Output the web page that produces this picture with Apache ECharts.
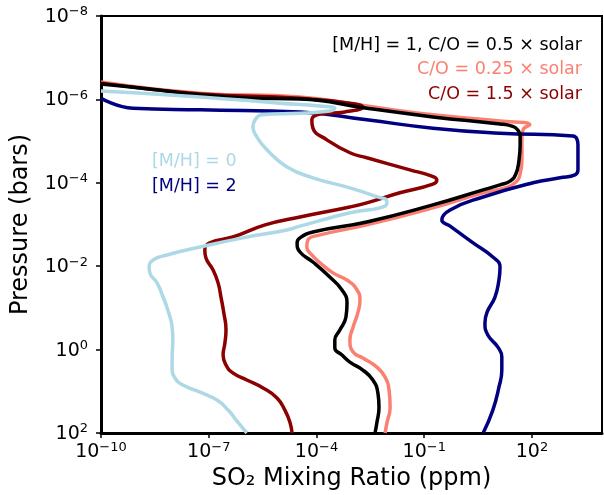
<!DOCTYPE html>
<html>
<head>
<meta charset="utf-8">
<script src="https://cdn.jsdelivr.net/npm/echarts@6/dist/echarts.min.js"></script>
<style>
  html, body { margin: 0; padding: 0; background: #fff; }
  #chart { width: 604px; height: 495px; }
</style>
</head>
<body>
<div id="chart"></div>
<script>
// values, stored as log10(ppm) and log10(bar)
const blackX = [-10, -8.64, -7.24, -5.85, -4.46, -2.6, -0.76, 1.11, 1.44, 1.58, 1.67, 1.67, 1.64, 1.55, 1.39, 1.11, 0.64, -0.76, -2.6, -4.1, -4.46, -4.54, -4.46, -4.1, -3.63, -3.29, -3.15, -3.18, -3.35, -3.49, -3.49, -3.29, -3.07, -2.71, -2.43, -2.29, -2.26, -2.32, -2.37];
const blackP = [-6.37, -6.25, -6.11, -6.03, -6.01, -5.79, -5.58, -5.41, -5.36, -5.29, -5.12, -4.91, -4.55, -4.21, -4.04, -3.95, -3.83, -3.47, -3.06, -2.82, -2.68, -2.56, -2.34, -2.1, -1.74, -1.43, -1.12, -0.78, -0.47, -0.23, -0.04, 0.13, 0.3, 0.49, 0.73, 1.04, 1.38, 1.76, 2.0];

const salmonX = [-10, -7.24, -4.46, -2.6, -0.76, 1.11, 1.94, 1.75, 1.72, 1.72, 1.67, 1.53, 1.25, 0.64, -0.76, -2.6, -3.9, -4.24, -4.27, -4.13, -3.9, -3.54, -3.12, -2.87, -2.79, -2.85, -2.98, -3.07, -2.98, -2.71, -2.32, -2.09, -1.98, -1.95, -2.04, -2.09];
const salmonP = [-6.42, -6.15, -6.06, -5.84, -5.63, -5.48, -5.39, -5.27, -5.03, -4.55, -4.21, -4.0, -3.88, -3.76, -3.4, -2.99, -2.75, -2.63, -2.46, -2.27, -2.08, -1.84, -1.65, -1.43, -1.19, -0.88, -0.54, -0.23, 0.06, 0.2, 0.42, 0.66, 0.97, 1.38, 1.76, 2.0];

const darkredX = [-10, -7.24, -4.46, -3.07, -2.71, -3.21, -3.9, -4.13, -4.1, -3.71, -3.07, -2.6, -1.4, -0.79, -0.65, -0.76, -1.68, -2.6, -3.07, -4.46, -5.43, -6.33, -6.97, -7.11, -7.08, -6.88, -6.74, -6.66, -6.58, -6.52, -6.55, -6.6, -6.52, -6.33, -5.94, -5.49, -5.1, -4.88, -4.74, -4.68];
const darkredP = [-6.39, -6.13, -6.03, -5.91, -5.82, -5.7, -5.65, -5.51, -5.31, -5.03, -4.72, -4.6, -4.31, -4.16, -4.07, -3.97, -3.76, -3.52, -3.42, -3.18, -2.99, -2.7, -2.56, -2.39, -2.2, -1.91, -1.6, -1.26, -0.88, -0.47, -0.16, 0.13, 0.37, 0.56, 0.73, 0.92, 1.16, 1.45, 1.74, 2.0];

const lightblueX = [-10, -7.24, -5.02, -3.9, -3.49, -3.63, -4.46, -5.52, -5.71, -5.77, -5.66, -5.38, -4.82, -4.1, -3.07, -2.37, -2.04, -2.09, -3.07, -4.46, -4.82, -6.05, -7.24, -8.16, -8.55, -8.66, -8.64, -8.44, -8.27, -8.14, -8.02, -8.0, -8.02, -8.02, -7.94, -7.72, -7.24, -6.77, -6.46, -6.19, -5.94];
const lightblueP = [-6.2, -6.06, -5.91, -5.84, -5.79, -5.72, -5.67, -5.63, -5.51, -5.34, -5.1, -4.79, -4.38, -4.12, -3.88, -3.68, -3.56, -3.44, -3.28, -2.96, -2.87, -2.68, -2.46, -2.27, -2.15, -1.98, -1.84, -1.6, -1.26, -0.95, -0.54, -0.23, 0.18, 0.44, 0.68, 0.85, 1.02, 1.21, 1.45, 1.74, 2.0];

const navyX = [-10, -9.11, -7.24, -4.46, -2.6, -0.76, 1.11, 3.14, 3.25, 3.28, 3.28, 3.2, 2.78, 2.03, 0.64, -0.28, -0.51, -0.28, 0.36, 0.91, 1.11, 1.08, 0.97, 0.75, 0.69, 0.77, 1.05, 1.16, 1.16, 1.08, 0.91, 0.64];
const navyP = [-6.03, -5.79, -5.75, -5.7, -5.51, -5.31, -5.19, -5.12, -5.05, -4.91, -4.31, -4.19, -4.12, -4.0, -3.66, -3.35, -3.11, -2.96, -2.56, -2.22, -1.98, -1.67, -1.26, -0.9, -0.64, -0.35, -0.06, 0.18, 0.49, 0.9, 1.45, 2.0];

const toPairs = (xs, ps) => xs.map((v, i) => [Math.pow(10, v), Math.pow(10, ps[i])]);

const FONT = 'DejaVu Sans';

const supLabel = (v) => {
  const e = Math.round(Math.log10(v));
  return '{b|10}{s|' + (e < 0 ? '\u2212' + (-e) : e) + '}';
};
const tickRich = {
  b: { fontSize: 19, lineHeight: 21, verticalAlign: 'bottom', fontFamily: FONT, color: '#000' },
  s: { fontSize: 13, lineHeight: 13, padding: [0, 0, 8, 0], verticalAlign: 'top', fontFamily: FONT, color: '#000' },
};

const makeLine = (name, color, xs, ps) => ({
  name: name,
  type: 'line',
  data: toPairs(xs, ps),
  showSymbol: false,
  symbol: 'none',
  smooth: 0.5,
  lineStyle: { color: color, width: 3.5 },
  itemStyle: { color: color },
  clip: true,
});

const option = {
  animation: false,
  backgroundColor: '#fff',
  grid: {
    left: 101, right: 2, top: 16, bottom: 62,
    show: true, borderColor: '#000', borderWidth: 2,
    outerBoundsMode: 'none',
  },
  xAxis: {
    type: 'log',
    min: 1e-10,
    max: 8900,
    interval: 3,
    name: 'SO\u2082 Mixing Ratio (ppm)',
    nameLocation: 'middle',
    nameGap: 27,
    nameTextStyle: { fontSize: 24, fontFamily: FONT, color: '#000' },
    axisLine: { lineStyle: { color: '#000', width: 3 } },
    axisTick: { length: 5, lineStyle: { color: '#000', width: 1.5 } },
    axisLabel: { margin: 8, formatter: supLabel, rich: tickRich, showMinLabel: true, showMaxLabel: false },
    splitLine: { show: false },
    minorTick: { show: false },
  },
  yAxis: {
    type: 'log',
    inverse: true,
    min: 1e-8,
    max: 1e2,
    interval: 2,
    name: 'Pressure (bars)',
    nameLocation: 'middle',
    nameRotate: 90,
    nameGap: 68,
    nameTextStyle: { fontSize: 24, fontFamily: FONT, color: '#000' },
    axisLine: { lineStyle: { color: '#000', width: 3 } },
    axisTick: { length: 5, lineStyle: { color: '#000', width: 1.5 } },
    axisLabel: { margin: 13, formatter: supLabel, rich: tickRich, showMinLabel: true, showMaxLabel: true },
    splitLine: { show: false },
    minorTick: { show: false },
  },
  series: [
    makeLine('C/O = 0.25 × solar', 'salmon', salmonX, salmonP),
    makeLine('[M/H] = 2', 'navy', navyX, navyP),
    makeLine('C/O = 1.5 × solar', 'darkred', darkredX, darkredP),
    makeLine('[M/H] = 1, C/O = 0.5 × solar', 'black', blackX, blackP),
    makeLine('[M/H] = 0', 'lightblue', lightblueX, lightblueP),
  ],
  graphic: [
    { type: 'text', style: { x: 582, y: 45, text: '[M/H] = 1, C/O = 0.5 × solar', fill: '#000', font: '17.5px "DejaVu Sans"', textAlign: 'right', textVerticalAlign: 'middle' } },
    { type: 'text', style: { x: 582, y: 69.5, text: 'C/O = 0.25 × solar', fill: 'salmon', font: '17.5px "DejaVu Sans"', textAlign: 'right', textVerticalAlign: 'middle' } },
    { type: 'text', style: { x: 582, y: 94, text: 'C/O = 1.5 × solar', fill: 'darkred', font: '17.5px "DejaVu Sans"', textAlign: 'right', textVerticalAlign: 'middle' } },
    { type: 'text', style: { x: 152, y: 161, text: '[M/H] = 0', fill: 'lightblue', font: '17.5px "DejaVu Sans"', textAlign: 'left', textVerticalAlign: 'middle' } },
    { type: 'text', style: { x: 152, y: 186, text: '[M/H] = 2', fill: 'navy', font: '17.5px "DejaVu Sans"', textAlign: 'left', textVerticalAlign: 'middle' } },
  ],
};

const chart = echarts.init(document.getElementById('chart'), null, { renderer: 'canvas' });
chart.setOption(option);
</script>
</body>
</html>
